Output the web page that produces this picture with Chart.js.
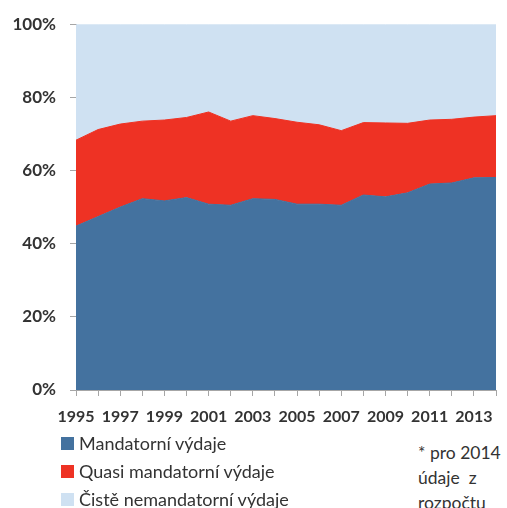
<!DOCTYPE html>
<html>
<head>
<meta charset="utf-8">
<script src="https://cdn.jsdelivr.net/npm/chart.js@4/dist/chart.umd.min.js"></script>
<style>
  html, body { margin: 0; padding: 0; background: #fff; }
  body { width: 507px; height: 508px; position: relative; overflow: hidden; font-family: Lato, "Open Sans", sans-serif; color: #333; }
  #wrap { position: absolute; left: 0; top: 0; width: 507px; height: 430px; }
  #legend { position: absolute; left: 61px; top: 429px; font-size: 18px; line-height: 28px; }
  .item { display: flex; align-items: center; white-space: nowrap; }
  .box { width: 13px; height: 13px; margin-right: 5px; flex: none; }
  #note { position: absolute; left: 418px; top: 440px; font-size: 17.5px; line-height: 25px; white-space: pre; }
</style>
</head>
<body>
<div id="wrap"><canvas id="c" width="507" height="430"></canvas></div>
<div id="legend"></div>
<div id="note">* pro 2014
údaje  z
rozpočtu</div>
<script>
const years = ["1995","1996","1997","1998","1999","2000","2001","2002","2003","2004","2005","2006","2007","2008","2009","2010","2011","2012","2013","2014"];
const seriesNames = ["Mandatorní výdaje", "Quasi mandatorní výdaje", "Čistě nemandatorní výdaje"];
const mandatory = [44.8, 47.4, 50.0, 52.3, 51.7, 52.6, 50.8, 50.5, 52.3, 52.1, 50.8, 50.8, 50.5, 53.3, 52.8, 53.9, 56.3, 56.6, 58.0, 58.1];
const quasi     = [23.5, 23.8, 22.7, 21.2, 22.1, 21.9, 25.2, 23.0, 22.7, 22.1, 22.4, 21.7, 20.4, 19.8, 20.2, 19.0, 17.5, 17.4, 16.6, 16.9];
const rest      = [31.7, 28.8, 27.3, 26.5, 26.2, 25.5, 24.0, 26.5, 25.0, 25.8, 26.8, 27.5, 29.1, 26.9, 27.0, 27.1, 26.2, 26.0, 25.4, 25.0];
const yTicks = [0, 20, 40, 60, 80, 100];

const colors = ["#44729f", "#ee3224", "#cfe1f2"];
const textColor = "#333333";
const axisColor = "#a6a6a6";

const values = [mandatory, quasi, rest];
const datasets = values.map((d, i) => ({
  label: seriesNames[i],
  data: d,
  backgroundColor: colors[i],
  borderColor: colors[i],
  borderWidth: 1,
  pointRadius: 0,
  tension: 0,
  fill: i === 0 ? 'origin' : '-1'
}));

new Chart(document.getElementById('c'), {
  type: 'line',
  data: { labels: years, datasets },
  options: {
    responsive: false,
    devicePixelRatio: 1,
    animation: false,
    layout: { padding: { left: 0, right: 7, top: 24, bottom: 0 } },
    plugins: { legend: { display: false }, tooltip: { enabled: false } },
    scales: {
      x: {
        offset: false,
        grid: { drawOnChartArea: false, drawTicks: true, tickLength: 6, color: axisColor },
        border: { color: axisColor },
        ticks: {
          autoSkip: false, maxRotation: 0, minRotation: 0, padding: 11,
          color: textColor, font: { family: 'Lato', weight: 'bold', size: 16 },
          callback: (v, i) => (i % 2 === 0 ? years[i] : '')
        },
        afterFit: s => { s.height = 40; }
      },
      y: {
        stacked: true, min: 0, max: 100,
        afterBuildTicks: s => { s.ticks = yTicks.map(v => ({ value: v })); },
        grid: { drawOnChartArea: false, drawTicks: true, tickLength: 6, color: axisColor },
        border: { color: axisColor },
        ticks: {
          padding: 14, color: textColor, font: { family: 'Lato', weight: 'bold', size: 17 },
          callback: v => v + '%'
        },
        afterFit: s => { s.width = 76; }
      }
    }
  }
});

const lg = document.getElementById('legend');
seriesNames.forEach((n, i) => {
  const it = document.createElement('div');
  it.className = 'item';
  const b = document.createElement('span');
  b.className = 'box';
  b.style.background = colors[i];
  const t = document.createElement('span');
  t.textContent = n;
  it.appendChild(b); it.appendChild(t);
  lg.appendChild(it);
});
</script>
</body>
</html>
